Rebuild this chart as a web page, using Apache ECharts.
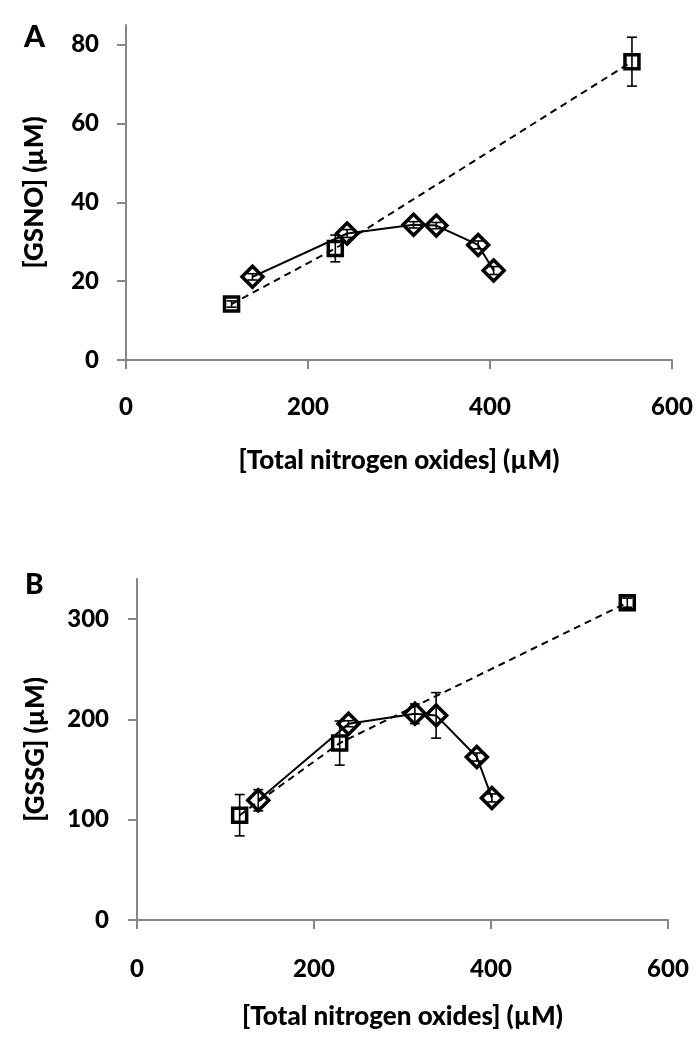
<!DOCTYPE html>
<html>
<head>
<meta charset="utf-8">
<script src="https://cdn.jsdelivr.net/npm/echarts@6/dist/echarts.min.js"></script>
<style>
html,body{margin:0;padding:0;background:#fff;}
#chart{width:698px;height:1050px;}
</style>
</head>
<body>
<div id="chart"></div>
<script>
// ---- Data ----
// Panel A: GSNO
const xSqA = [116, 230, 556];
const ySqA = [14.2, 28.3, 75.7];
const eSqA = [0.8, 3.4, 6.2];
const xDiA = [139, 243, 316, 341, 387, 404];
const yDiA = [21.1, 32.1, 34.3, 34.1, 29.2, 22.7];
const eDiA = [0.8, 1.0, 0.8, 0.8, 1.0, 1.0];
// Panel B: GSSG
const xSqB = [116, 229, 554];
const ySqB = [104.5, 176.4, 316.4];
const eSqB = [20.6, 22, 4.5];
const xDiB = [137, 239, 314, 338, 384, 401];
const yDiB = [119.4, 195.7, 205.6, 204, 162.5, 121.7];
const eDiB = [10.6, 3, 9.8, 22.7, 4, 4];

const xTicks = [0, 200, 400, 600];
const yTicksA = [0, 20, 40, 60, 80];
const yTicksB = [0, 100, 200, 300];
const xTitle = '[Total nitrogen oxides] (\u00b5M)';
const yTitleA = '[GSNO] (\u00b5M)';
const yTitleB = '[GSSG] (\u00b5M)';
const panelLabels = ['A', 'B'];

const FONT = 'Lato';
const W = 900;
const axisGrey = '#868686';

function zip(xs, ys) { return xs.map((x, i) => [x, ys[i]]); }
function zip3(xs, ys, es) { return xs.map((x, i) => [x, ys[i], es[i]]); }

function errRender(params, api) {
  const x = api.value(0), y = api.value(1), e = api.value(2);
  const top = api.coord([x, y + e]);
  const bot = api.coord([x, y - e]);
  const cw = 5;
  const st = { stroke: '#000', lineWidth: 1.6 };
  return {
    type: 'group',
    children: [
      { type: 'line', shape: { x1: top[0], y1: top[1], x2: bot[0], y2: bot[1] }, style: st },
      { type: 'line', shape: { x1: top[0] - cw, y1: top[1], x2: top[0] + cw, y2: top[1] }, style: st },
      { type: 'line', shape: { x1: bot[0] - cw, y1: bot[1], x2: bot[0] + cw, y2: bot[1] }, style: st }
    ]
  };
}

function xAxisCfg(gridIndex, gap, margin) {
  return {
    gridIndex: gridIndex, type: 'value', min: 0, max: 600, interval: 200,
    name: xTitle, nameLocation: 'middle', nameGap: gap,
    nameTextStyle: { fontFamily: FONT, fontWeight: W, fontSize: 26, color: '#000' },
    axisLine: { show: true, onZero: false, lineStyle: { color: axisGrey, width: 2 } },
    axisTick: { show: true, inside: false, length: 9, lineStyle: { color: axisGrey, width: 2 } },
    axisLabel: { fontFamily: FONT, fontWeight: W, fontSize: 24, color: '#000', margin: margin,
      formatter: v => xTicks.includes(v) ? String(v) : '' },
    splitLine: { show: false }
  };
}
function yAxisCfg(gridIndex, max, interval, name, gap, margin, ticks) {
  return {
    gridIndex: gridIndex, type: 'value', min: 0, max: max, interval: interval,
    name: name, nameLocation: 'middle', nameGap: gap,
    nameTextStyle: { fontFamily: FONT, fontWeight: W, fontSize: 26, color: '#000' },
    axisLine: { show: true, onZero: false, lineStyle: { color: axisGrey, width: 2 } },
    axisTick: { show: true, inside: false, length: 9, lineStyle: { color: axisGrey, width: 2 } },
    axisLabel: { fontFamily: FONT, fontWeight: W, fontSize: 24, color: '#000', margin: margin,
      showMaxLabel: false,
      formatter: v => ticks.includes(v) ? String(v) : '' },
    splitLine: { show: false }
  };
}

function lineSeries(gi, data, symbol, size, dashed) {
  return {
    type: 'line', xAxisIndex: gi, yAxisIndex: gi, data: data,
    symbol: symbol, symbolSize: size, showSymbol: true,
    lineStyle: { color: '#000', width: 2, type: dashed ? [7, 5] : 'solid' },
    itemStyle: { color: 'transparent', borderColor: '#000', borderWidth: 3.5 },
    emphasis: { disabled: true }, animation: false, z: 3
  };
}
function errSeries(gi, data) {
  return {
    type: 'custom', xAxisIndex: gi, yAxisIndex: gi, data: data,
    renderItem: errRender, animation: false, z: 4, silent: true
  };
}

const chart = echarts.init(document.getElementById('chart'), null, { renderer: 'canvas' });
chart.setOption({
  backgroundColor: '#fff',
  animation: false,
  title: [
    { text: panelLabels[0], left: 19, top: 17, textStyle: { fontFamily: FONT, fontWeight: W, fontSize: 30, color: '#000' } },
    { text: panelLabels[1], left: 20, top: 566, textStyle: { fontFamily: FONT, fontWeight: W, fontSize: 28, color: '#000' } }
  ],
  grid: [
    { left: 126, right: 26, top: 25, bottom: 690, containLabel: false },
    { left: 137, right: 30, top: 579, bottom: 130, containLabel: false }
  ],
  xAxis: [xAxisCfg(0, 88, 35), xAxisCfg(1, 84, 37)],
  yAxis: [
    yAxisCfg(0, 85, 20, yTitleA, 78, 27, yTicksA),
    yAxisCfg(1, 340, 100, yTitleB, 88, 28, yTicksB)
  ],
  series: [
    lineSeries(0, zip(xSqA, ySqA), 'rect', 14, true),
    lineSeries(0, zip(xDiA, yDiA), 'diamond', 21, false),
    errSeries(0, zip3(xSqA, ySqA, eSqA)),
    errSeries(0, zip3(xDiA, yDiA, eDiA)),
    lineSeries(1, zip(xSqB, ySqB), 'rect', 14, true),
    lineSeries(1, zip(xDiB, yDiB), 'diamond', 21, false),
    errSeries(1, zip3(xSqB, ySqB, eSqB)),
    errSeries(1, zip3(xDiB, yDiB, eDiB))
  ]
});
</script>
</body>
</html>
